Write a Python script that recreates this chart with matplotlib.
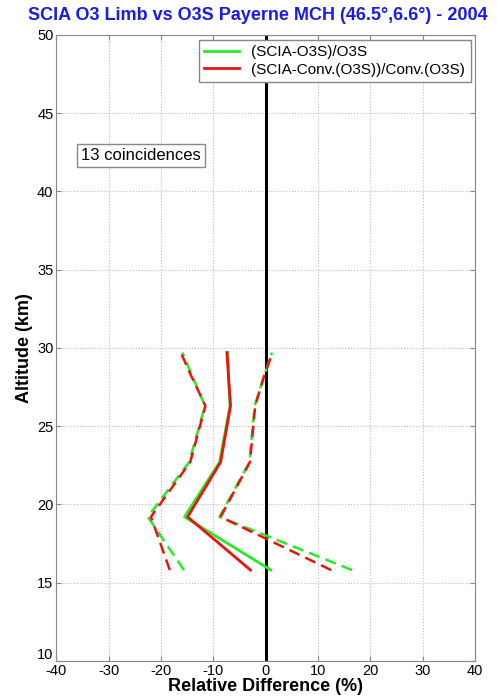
import matplotlib
matplotlib.use("Agg")
import matplotlib.pyplot as plt
from matplotlib.transforms import ScaledTranslation

plt.rcParams['font.family'] = ['Liberation Sans', 'DejaVu Sans']
plt.rcParams['axes.unicode_minus'] = False

# altitude levels (km)
alt = [15.8, 19.2, 22.7, 26.3, 28.2, 29.7]

# relative differences (%)
green_mean = [1.0, -15.5, -8.8, -6.8, -7.1, -7.2]
green_lo = [-15.6, -22.5, -14.6, -11.6, -14.0, -15.9]
green_hi = [16.5, -8.8, -3.1, -2.1, -0.3, 1.2]
red_mean = [-2.9, -14.9, -8.6, -6.7, -7.1, -7.4]
red_lo = [-18.3, -21.9, -14.4, -11.5, -14.2, -16.2]
red_hi = [12.5, -8.6, -3.0, -2.0, -0.3, 1.3]

green = '#22ee22'
red = '#ee1111'

fig = plt.figure(figsize=(4.97, 7.0), dpi=100)
ax = fig.add_axes([0.113, 0.056, 0.843, 0.894])
ax.set_axisbelow(True)

ax.plot(green_mean, alt, color=green, lw=2, label='(SCIA-O3S)/O3S', zorder=3)
ax.plot(red_mean, alt, color=red, lw=2, label='(SCIA-Conv.(O3S))/Conv.(O3S)', zorder=3)
ax.plot(green_lo, alt, color=green, lw=1.8, ls=(0, (4.5, 2.5)), zorder=3)
ax.plot(green_hi, alt, color=green, lw=1.8, ls=(0, (4.5, 2.5)), zorder=3)
ax.plot(red_lo, alt, color=red, lw=1.8, ls=(0, (4.5, 2.5)), zorder=3)
ax.plot(red_hi, alt, color=red, lw=1.8, ls=(0, (4.5, 2.5)), zorder=3)

ax.axvline(0, color='black', lw=2.2, zorder=2)

ax.set_xlim(-40, 40)
ax.set_ylim(10, 50)
ax.set_xticks(range(-40, 41, 10))
ax.set_yticks(range(10, 51, 5))
ax.grid(True, color='#bbbbbb', ls=':', lw=0.8)
ax.tick_params(direction='in', top=True, right=True, labelsize=10.5, color='#888888', pad=2)
for s in ax.spines.values():
    s.set_color('#888888')

# lift the bottom y label a little, as in the original
lbl = ax.get_yticklabels()[0]
lbl.set_transform(lbl.get_transform() + ScaledTranslation(0, 5 / 72, fig.dpi_scale_trans))

ax.set_xlabel('Relative Difference (%)', fontsize=13, fontweight='bold', labelpad=0)
ax.set_ylabel('Altitude (km)', fontsize=13, fontweight='bold', labelpad=3)
fig.text(0.519, 0.978, 'SCIA O3 Limb vs O3S Payerne MCH (46.5°,6.6°) - 2004',
         fontsize=13, fontweight='bold', color='#1a1aee', ha='center', va='center')

leg = ax.legend(loc='upper right', fontsize=11, fancybox=False, handlelength=2.3,
                borderaxespad=0.3, framealpha=1, edgecolor='#888888', labelspacing=0.25,
                borderpad=0.35)

ax.text(-35.3, 42.3, '13 coincidences', fontsize=12, va='center', ha='left',
        bbox=dict(boxstyle='square,pad=0.25', fc='white', ec='#888888'))

fig.savefig('out.png', dpi=100)
